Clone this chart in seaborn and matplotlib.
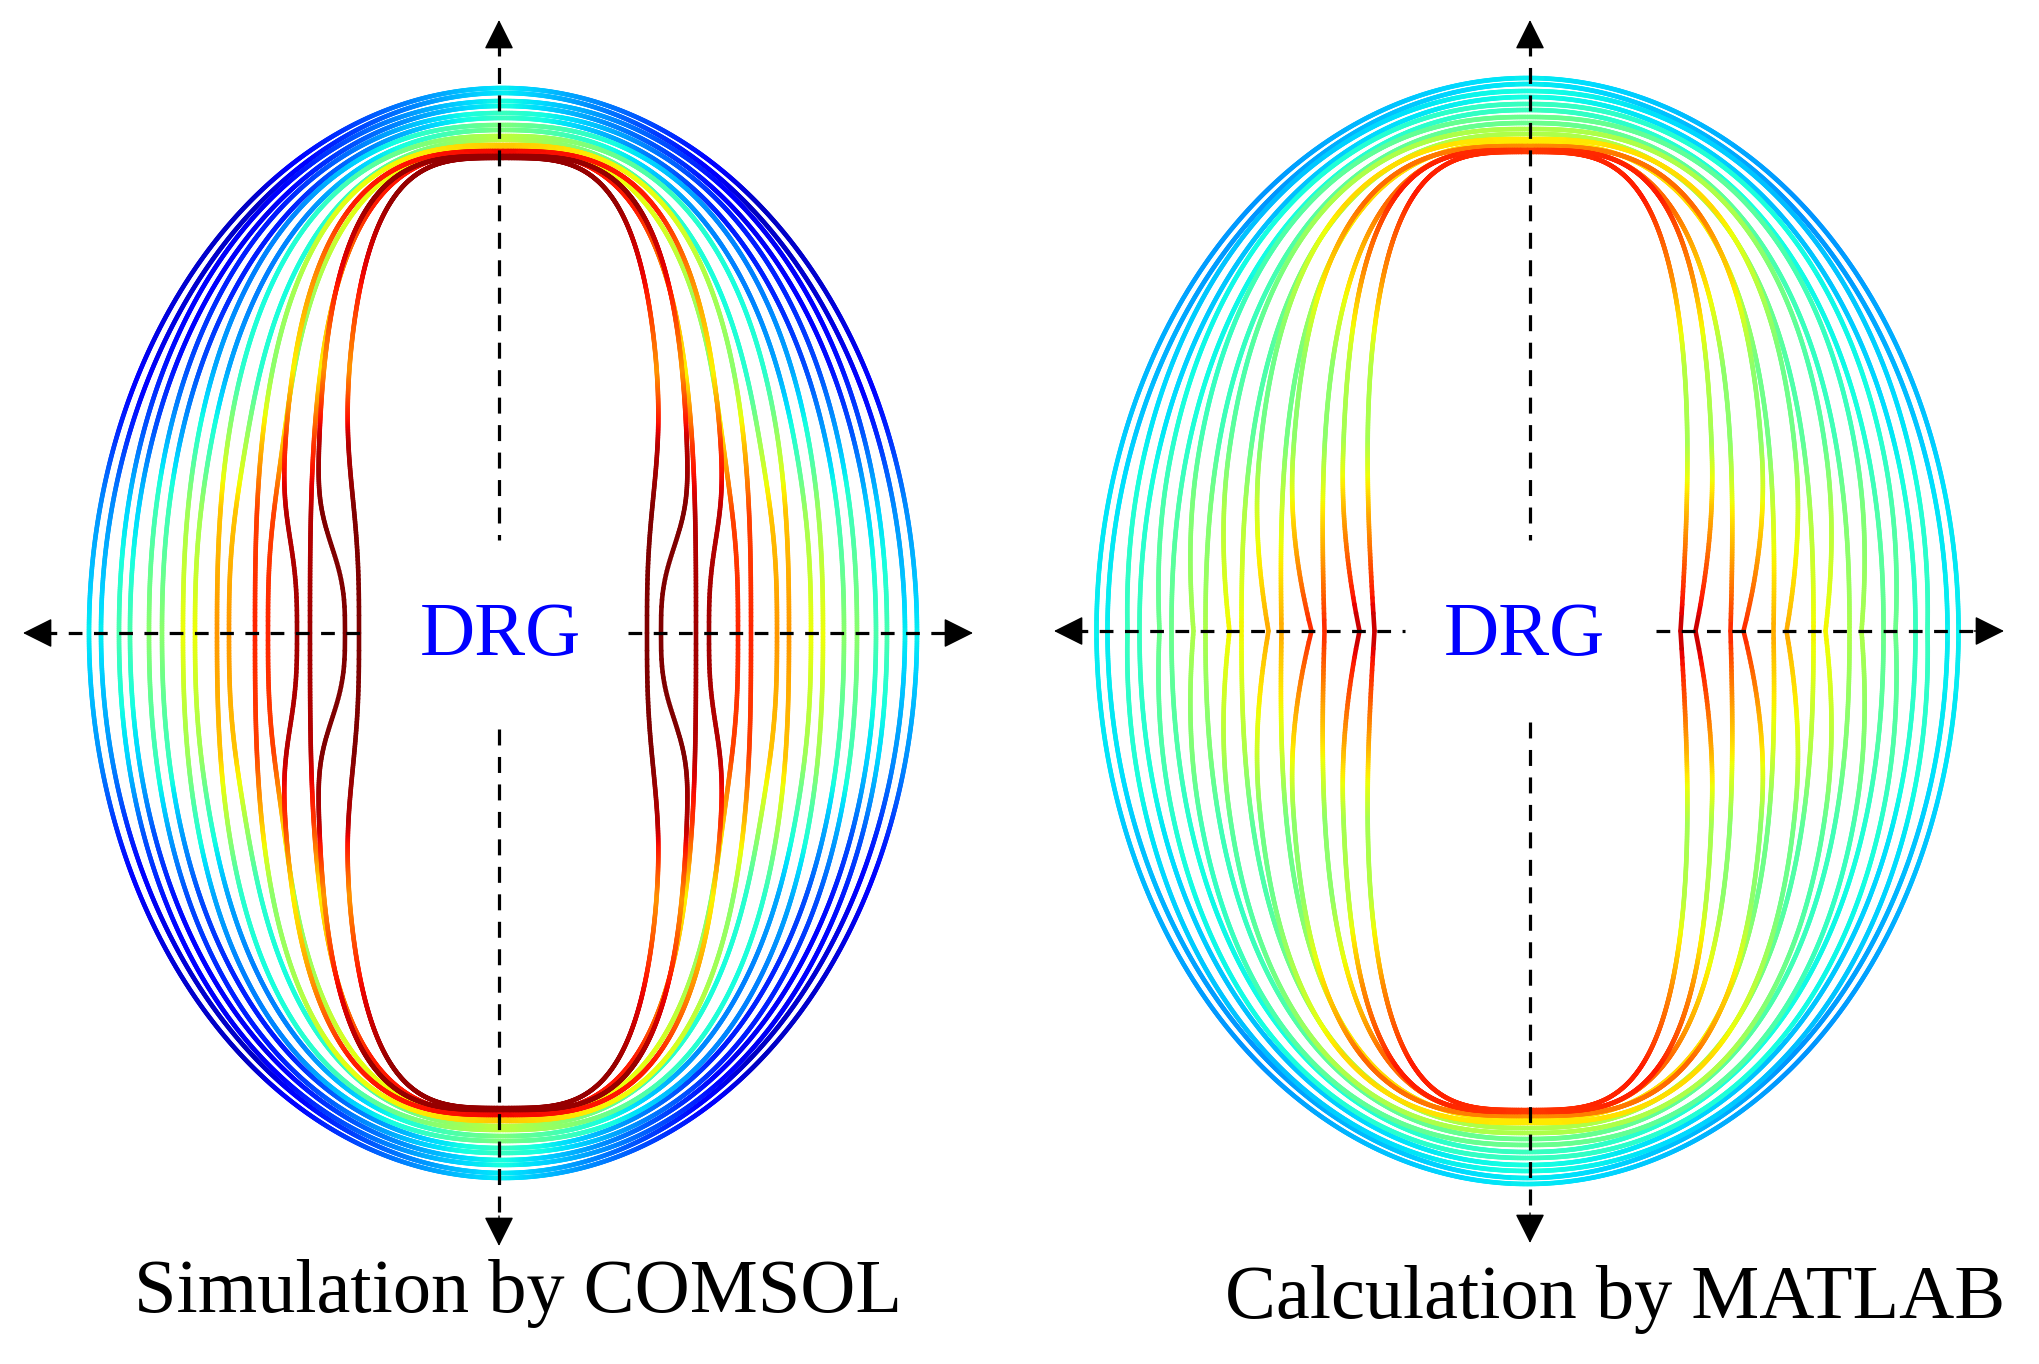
import numpy as np
import matplotlib
matplotlib.use("Agg")
import matplotlib.pyplot as plt
import seaborn as sns
from matplotlib.collections import LineCollection

# ------------------------------------------------------------------ data
panel_titles = ["Simulation by COMSOL", "Calculation by MATLAB"]
center_label = "DRG"

# 16 traces per panel (8 turns x 2 edges), listed outer -> inner
# half-width measured on the horizontal axis, half-height on the vertical axis
comsol_halfwidth = [414, 402, 384, 373, 354, 341, 320, 308, 286, 274, 248, 235, 206, 193, 158, 144]
comsol_halfheight = [545, 540, 532, 527, 520, 515, 508, 503, 497, 493, 488, 485, 482, 480, 477, 475]
# waist deformation (+ inward / - outward) and its vertical extent
comsol_pinch = [0, 0, 0, 0, 0, 0, 0, -3, 0, -8, 0, -10, 16, 0, 28, 16]
comsol_pinch_width = [120, 120, 120, 120, 120, 120, 120, 150, 120, 150, 120, 150, 110, 120, 100, 165]

matlab_halfwidth = [431, 420, 400, 388, 368, 356, 334, 322, 298, 286, 259, 246, 216, 203, 168, 153]
matlab_halfheight = [553, 547, 540, 534, 527, 521, 514, 508, 502, 497, 492, 488, 485, 483, 481, 479]
matlab_pinch = [0, 0, 2, 0, 4, 0, 7, 0, 10, 0, 15, 2, 22, 4, 18, 10]
matlab_pinch_width = [175, 175, 175, 175, 175, 175, 175, 175, 175, 175, 175, 250, 175, 280, 175, 300]

# superellipse exponent per turn (outer -> inner)
turn_exponent = [2.0, 2.1, 2.2, 2.35, 2.5, 2.75, 3.05, 3.5]

# normalised field level (jet scale) at polar angles (deg), per turn outer -> inner
level_angles = [0, 14, 22, 30, 40, 52, 90]
comsol_level = [
    [0.36, 0.26, 0.16, 0.10, 0.07, 0.06, 0.36],
    [0.44, 0.33, 0.21, 0.14, 0.11, 0.10, 0.38],
    [0.52, 0.42, 0.29, 0.20, 0.16, 0.15, 0.42],
    [0.64, 0.54, 0.40, 0.29, 0.25, 0.26, 0.50],
    [0.75, 0.70, 0.55, 0.40, 0.38, 0.40, 0.58],
    [0.87, 0.84, 0.70, 0.52, 0.55, 0.62, 0.70],
    [0.97, 0.95, 0.85, 0.65, 0.75, 0.88, 0.90],
    [1.00, 1.00, 0.95, 0.75, 0.90, 0.98, 0.98],
]
matlab_level = [
    [0.36, 0.35, 0.32, 0.30, 0.28, 0.27, 0.36],
    [0.42, 0.39, 0.35, 0.33, 0.32, 0.31, 0.38],
    [0.48, 0.44, 0.39, 0.37, 0.37, 0.38, 0.42],
    [0.56, 0.50, 0.43, 0.41, 0.43, 0.46, 0.48],
    [0.65, 0.56, 0.46, 0.44, 0.49, 0.56, 0.56],
    [0.73, 0.60, 0.49, 0.48, 0.57, 0.68, 0.66],
    [0.87, 0.66, 0.52, 0.52, 0.67, 0.80, 0.76],
    [0.95, 0.72, 0.55, 0.57, 0.76, 0.88, 0.85],
]

# ------------------------------------------------------------------ layout
W, H = 2040, 1364
panels = [
    dict(cx=503, cy=633, axis_x=499, hw=comsol_halfwidth, hh=comsol_halfheight,
         pinch=comsol_pinch, pw=comsol_pinch_width, level=comsol_level, smooth=True,
         h_ends=(23, 370, 628, 973), v_ends=(20, 540, 729, 1246),
         label_xy=(500, 637), title_xy=(518, 1294)),
    dict(cx=1527.5, cy=631, axis_x=1530, hw=matlab_halfwidth, hh=matlab_halfheight,
         pinch=matlab_pinch, pw=matlab_pinch_width, level=matlab_level, smooth=False,
         h_ends=(1054, 1405, 1656, 2004), v_ends=(20, 540, 722, 1243),
         label_xy=(1524, 637), title_xy=(1615, 1300)),
]

sns.set_theme(style="white")
plt.rcParams["font.family"] = ["Liberation Serif", "DejaVu Serif"]
cmap = matplotlib.colormaps["jet"]

fig = plt.figure(figsize=(W / 100, H / 100), dpi=100)
ax = fig.add_axes([0, 0, 1, 1])
ax.set_xlim(0, W)
ax.set_ylim(H, 0)
ax.axis("off")

t = np.linspace(0, 2 * np.pi, 2001)
c, s = np.cos(t), np.sin(t)

for P in panels:
    for i in range(16):
        turn = i // 2
        pinch = P["pinch"][i]
        width = P["pw"][i]
        a0 = P["hw"][i] + pinch
        b0 = P["hh"][i]
        n = turn_exponent[turn]
        xb = a0 * np.sign(c) * np.abs(c) ** (2 / n)
        yb = b0 * np.sign(s) * np.abs(s) ** (2 / n)
        if P["smooth"]:
            prof = np.exp(-np.abs(yb / width) ** 3)
        else:
            prof = np.clip(1 - np.abs(yb) / width, 0, None) ** 2
        xx = P["cx"] + xb - np.sign(c) * pinch * prof
        yy = P["cy"] - yb
        phi = np.degrees(np.arctan2(np.abs(yb) / b0, np.abs(xb) / a0))
        lev = np.interp(phi, level_angles, P["level"][turn])
        pts = np.column_stack([xx, yy]).reshape(-1, 1, 2)
        segs = np.concatenate([pts[:-1], pts[1:]], axis=1)
        lv = 0.5 * (lev[:-1] + lev[1:])
        lc = LineCollection(segs, colors=cmap(np.clip(lv, 0, 1)), linewidths=3.3,
                            capstyle="round", joinstyle="round", zorder=2)
        ax.add_collection(lc)

    # dashed axes with arrowheads
    x0, x1, x2, x3 = P["h_ends"]
    y0, y1, y2, y3 = P["v_ends"]
    cy, axx = P["cy"], P["axis_x"]
    hdash = (0, (4.3, 3.6))
    vdash = (0, (5.0, 3.6))
    ax.plot([x0 + 20, x1], [cy, cy], color="black", lw=2.3, ls=hdash, zorder=4)
    ax.plot([x2, x3 - 20], [cy, cy], color="black", lw=2.3, ls=hdash, zorder=4)
    ax.plot([axx, axx], [y0 + 20, y1], color="black", lw=2.3, ls=vdash, zorder=4)
    ax.plot([axx, axx], [y2, y3 - 20], color="black", lw=2.3, ls=vdash, zorder=4)
    arrow = dict(arrowstyle="-|>,head_length=0.94,head_width=0.47", color="black",
                 lw=1, mutation_scale=20, shrinkA=0, shrinkB=0)
    ax.annotate("", xy=(x0, cy), xytext=(x0 + 30, cy), arrowprops=arrow, zorder=5)
    ax.annotate("", xy=(x3, cy), xytext=(x3 - 30, cy), arrowprops=arrow, zorder=5)
    ax.annotate("", xy=(axx, y0), xytext=(axx, y0 + 30), arrowprops=arrow, zorder=5)
    ax.annotate("", xy=(axx, y3), xytext=(axx, y3 - 30), arrowprops=arrow, zorder=5)

    ax.text(*P["label_xy"], center_label, color="#0000ff", fontsize=55,
            ha="center", va="center", zorder=6)

for P, title in zip(panels, panel_titles):
    ax.text(*P["title_xy"], title, color="black", fontsize=55,
            ha="center", va="center", zorder=6)

fig.savefig("out.png", dpi=100, facecolor="white")
